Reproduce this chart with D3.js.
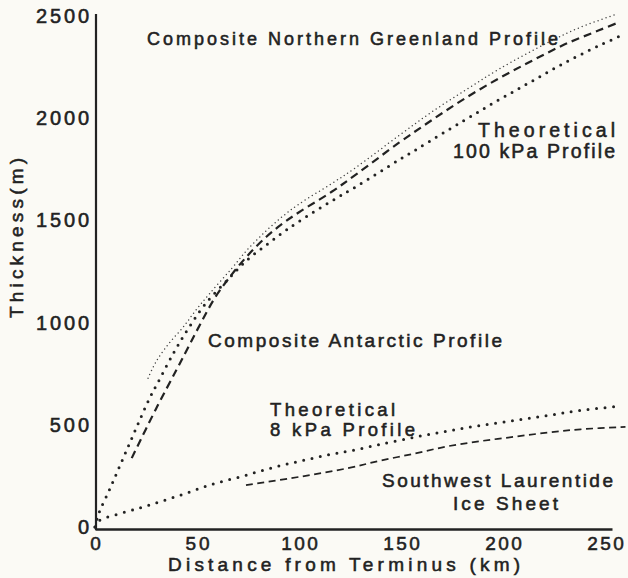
<!DOCTYPE html>
<html>
<head>
<meta charset="utf-8">
<script src="https://cdn.jsdelivr.net/npm/d3@7"></script>
<style>
  html, body { margin: 0; padding: 0; background: #fbfaf5; }
  svg { display: block; }
  text { font-family: "Liberation Sans", Arial, sans-serif; fill: #222; }
</style>
</head>
<body>
<script>
// ---- Data (distance km, thickness m) ----
const xTicks = [0, 50, 100, 150, 200, 250];
const yTicks = [0, 500, 1000, 1500, 2000, 2500];

// Composite Northern Greenland Profile (fine dotted)
const greenland = [[26,728],[30,810],[36,895],[43,975],[49,1055],[56,1140],[67,1265],[75,1360],[84,1450],[92,1520],[100,1580],[116,1680],[128,1760],[149,1915],[165,2030],[182,2140],[198,2240],[222,2370],[238,2445],[256,2510]];
// Composite Antarctic Profile (long dashes)
const antarctic = [[18,337],[30,580],[40,770],[46,885],[52,1000],[59,1125],[67,1235],[75,1330],[84,1420],[92,1485],[100,1540],[116,1640],[128,1725],[149,1880],[165,1990],[181,2095],[198,2195],[214,2280],[230,2360],[247,2430],[257,2470]];
// Theoretical 100 kPa Profile (heavy dotted)
const theory100 = [[0,0],[2,70],[7,180],[12,295],[17,410],[22,525],[27,635],[31,710],[39,860],[46,975],[54,1090],[66,1220],[75,1310],[84,1380],[92,1440],[100,1495],[116,1595],[128,1665],[148,1790],[158,1850],[181,1990],[198,2090],[214,2180],[230,2270],[247,2355],[257,2400]];
// Theoretical 8 kPa Profile (heavy dotted)
const theory8 = [[0,0],[2,30],[13,68],[22,93],[30,118],[38,143],[46,170],[54,198],[62,222],[71,245],[79,268],[87,290],[95,310],[103,328],[111,346],[119,362],[128,378],[140,405],[157,440],[173,470],[189,497],[206,522],[222,546],[238,570],[258,592]];
// Southwest Laurentide Ice Sheet (short dashes)
const laurentide = [[74,205],[100,245],[124,288],[140,325],[157,360],[173,395],[189,420],[206,442],[222,462],[238,478],[260,490]];

const W = 628, H = 578;
const svg = d3.select("body").append("svg").attr("width", W).attr("height", H);

const x = d3.scaleLinear().domain([0, 253.4]).range([95, 612]);
const y = d3.scaleLinear().domain([0, 2500]).range([527, 16]);

const ink = "#222";

// Axes
const xAxis = svg.append("g").attr("transform", `translate(0,${y(0) + 2})`)
  .call(d3.axisBottom(x).tickValues(xTicks).tickSize(0).tickPadding(8).tickFormat(d3.format("d")));
xAxis.select(".domain").attr("stroke", ink).attr("stroke-width", 2.6);
xAxis.selectAll("text").style("font-size", "19px").attr("fill", ink)
  .attr("stroke", ink).attr("stroke-width", 0.55)
  .attr("textLength", d => String(d).length * 12.5 - 1).attr("lengthAdjust", "spacing");

const yAxis = svg.append("g").attr("transform", `translate(${x(0) + 1},0)`)
  .call(d3.axisLeft(y).tickValues(yTicks).tickSize(0).tickPadding(7).tickFormat(d3.format("d")));
yAxis.select(".domain").attr("stroke", ink).attr("stroke-width", 2.2)
  .attr("d", `M0,${y(2500) - 2}V${y(0) + 3}`);
yAxis.selectAll("text").style("font-size", "20px").attr("fill", ink)
  .attr("stroke", ink).attr("stroke-width", 0.55)
  .attr("textLength", d => String(d).length * 13.6 - 1.5).attr("lengthAdjust", "spacing");

// Lines
const line = d3.line().x(d => x(d[0])).y(d => y(d[1])).curve(d3.curveCatmullRom.alpha(0.5));
const series = [
  { data: greenland, width: 1.5, dash: "0 4.2", color: "#444" },
  { data: antarctic, width: 2.2, dash: "8 5", color: ink },
  { data: theory100, width: 3, dash: "0 8", color: ink },
  { data: theory8, width: 3, dash: "0 8.5", color: ink },
  { data: laurentide, width: 1.7, dash: "7 4.5", color: ink }
];
svg.append("g").selectAll("path").data(series).join("path")
  .attr("d", d => line(d.data))
  .attr("fill", "none")
  .attr("stroke", d => d.color)
  .attr("stroke-width", d => d.width)
  .attr("stroke-dasharray", d => d.dash)
  .attr("stroke-linecap", d => d.dash.startsWith("0") ? "round" : "butt");

// Labels
const labels = [
  { t: "Composite Northern Greenland Profile", x: 147, y: 45, len: 411, size: 18 },
  { t: "Theoretical", x: 478, y: 137, len: 137, size: 19.5 },
  { t: "100 kPa Profile", x: 453, y: 158, len: 162, size: 19.5 },
  { t: "Composite Antarctic Profile", x: 208, y: 347, len: 294, size: 19 },
  { t: "Theoretical", x: 270, y: 416, len: 125, size: 18.5 },
  { t: "8 kPa Profile", x: 270, y: 436, len: 145, size: 18.5 },
  { t: "Southwest Laurentide", x: 382, y: 487, len: 231, size: 19 },
  { t: "Ice Sheet", x: 453, y: 510, len: 105, size: 19 },
  { t: "Distance from Terminus (km)", x: 168, y: 571, len: 352, size: 19 }
];
svg.append("g").selectAll("text").data(labels).join("text")
  .attr("x", d => d.x).attr("y", d => d.y)
  .attr("textLength", d => d.len).attr("lengthAdjust", "spacing")
  .style("font-size", d => d.size + "px")
  .attr("stroke", ink).attr("stroke-width", 0.55)
  .text(d => d.t);

svg.append("text")
  .attr("transform", "translate(23,318) rotate(-90)")
  .attr("textLength", 160).attr("lengthAdjust", "spacing")
  .style("font-size", "19px")
  .attr("stroke", ink).attr("stroke-width", 0.55)
  .text("Thickness(m)");
</script>
</body>
</html>
